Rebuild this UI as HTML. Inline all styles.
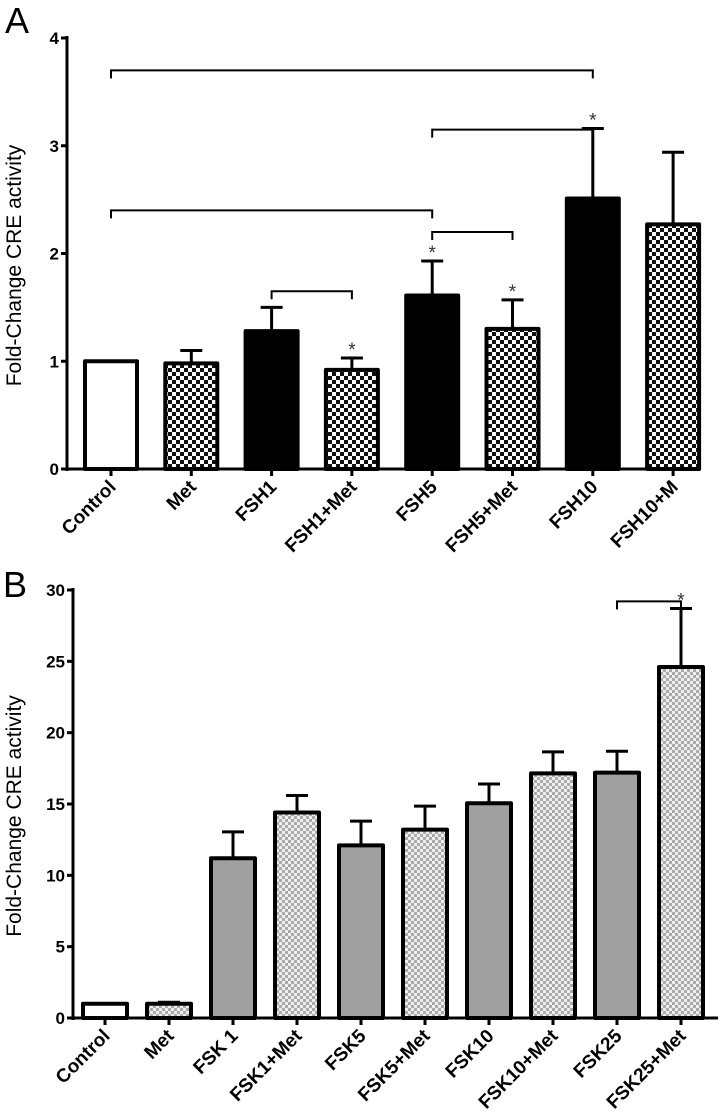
<!DOCTYPE html>
<html><head><meta charset="utf-8"><style>
html,body{margin:0;padding:0;background:#fff;}
svg{display:block;font-family:"Liberation Sans",Arial,sans-serif;}
</style></head><body>
<svg id="c" width="720" height="1119" viewBox="0 0 720 1119">
<defs>
<pattern id="chkA" width="8" height="8" patternUnits="userSpaceOnUse">
<rect width="8" height="8" fill="#fff"/><rect width="4" height="4" fill="#111"/><rect x="4" y="4" width="4" height="4" fill="#111"/></pattern>
<pattern id="chkB" width="6" height="6" patternUnits="userSpaceOnUse">
<rect width="6" height="6" fill="#eee"/><rect width="3" height="3" fill="#aaa"/><rect x="3" y="3" width="3" height="3" fill="#aaa"/></pattern>
</defs>
<text x="5" y="33" font-size="36">A</text>
<text x="3" y="597" font-size="36">B</text>
<g id="ga"></g>
<g id="gb"></g>
</svg>
<script>
const catsA=["Control","Met","FSH1","FSH1+Met","FSH5","FSH5+Met","FSH10","FSH10+M"];
const valsA=[1,0.98,1.28,0.92,1.61,1.30,2.51,2.27];
const errA=[0,0.12,0.22,0.11,0.32,0.27,0.65,0.67];
const fillA=["w","c","k","c","k","c","k","c"];
const ticksA=[0,1,2,3,4];
const bracketsA=[[0,6,3.7],[4,6,3.15],[0,4,2.4],[4,5,2.2],[2,3,1.65]];
const starsA=[3,4,5,6];

const catsB=["Control","Met","FSK 1","FSK1+Met","FSK5","FSK5+Met","FSK10","FSK10+Met","FSK25","FSK25+Met"];
const valsB=[1,1,11.2,14.4,12.1,13.2,15.05,17.15,17.2,24.6];
const errB=[0,0.1,1.85,1.2,1.7,1.65,1.35,1.5,1.5,4.1];
const fillB=["w","c","g","c","g","c","g","c","g","c"];
const ticksB=[0,5,10,15,20,25,30];
const bracketsB=[[8,9,29.2]];
const starsB=[9];

const NS="http://www.w3.org/2000/svg";
function mk(p,t,a){const e=document.createElementNS(NS,t);for(const k in a)e.setAttribute(k,a[k]);p.appendChild(e);return e;}

function draw(g,o){
  const y=v=>o.y0-(v-o.ymin)/(o.ymax-o.ymin)*(o.y0-o.y1);
  const x=i=>o.x0+o.first+i*o.step;
  let ax=mk(g,'line',{x1:o.ax,y1:o.y1-2,x2:o.ax,y2:o.y0+2,stroke:'#000','stroke-width':3});
  
  
  let bx=mk(g,'line',{x1:o.ax-2,y1:o.y0,x2:o.xend,y2:o.y0,stroke:'#000','stroke-width':3});
  
  
  o.ticks.forEach(t=>{
    mk(g,'line',{x1:o.ax-6,y1:y(t),x2:o.ax,y2:y(t),stroke:'#000','stroke-width':3});
    let tl=mk(g,'text',{x:o.ax-8,y:y(t)+6,'text-anchor':'end','font-size':17,'font-weight':'bold'});
    tl.textContent=t;
    
    
  });
  let yt=mk(g,'text',{x:0,y:0,'font-size':21,'text-anchor':'middle',transform:`translate(21,${(o.y0+o.y1)/2+12}) rotate(-90)`});
  yt.textContent="Fold-Change CRE activity";
  
  
  o.cats.forEach((c,i)=>{
    const cx=x(i),v=o.vals[i],e=o.err[i];
    if(e>0){mk(g,'line',{x1:cx,y1:y(v),x2:cx,y2:y(v+e),stroke:'#000','stroke-width':3});
      mk(g,'line',{x1:cx-11,y1:y(v+e),x2:cx+11,y2:y(v+e),stroke:'#000','stroke-width':3});}
    const f=o.fill[i];
    const fill=f=='w'?'#fff':f=='k'?'#000':f=='g'?'#a0a0a0':o.pat;
    let r=mk(g,'rect',{x:cx-o.bw/2,y:y(v),width:o.bw,height:o.y0-y(v),fill:fill,stroke:'#000','stroke-width':4,'stroke-linejoin':'round'});
    
    
    mk(g,'line',{x1:cx,y1:o.y0,x2:cx,y2:o.y0+7,stroke:'#000','stroke-width':3});
    let t=mk(g,'text',{x:0,y:0,'text-anchor':'end','font-size':19,'font-weight':'bold',transform:`translate(${cx+6},${o.y0+19}) rotate(-45)`});
    t.textContent=c;
    
    
  });
  o.brackets.forEach(b=>{
    const yy=y(b[2]);
    let p=mk(g,'path',{d:`M${x(b[0])},${yy+8}V${yy}H${x(b[1])}V${yy+8}`,fill:'none',stroke:'#000','stroke-width':2});
    
    
  });
  o.stars.forEach(i=>{
    let s=mk(g,'text',{x:x(i),y:y(o.vals[i]+o.err[i])-2,'text-anchor':'middle','font-size':19,fill:'#333'});
    s.textContent="*";
    
    
  });
}
draw(document.getElementById('ga'),{cats:catsA,vals:valsA,err:errA,fill:fillA,ticks:ticksA,brackets:bracketsA,stars:starsA,
  ymin:0,ymax:4,y0:469,y1:38,ax:67,x0:0,first:111,step:80.3,bw:52,xend:700,pat:'url(#chkA)'});
draw(document.getElementById('gb'),{cats:catsB,vals:valsB,err:errB,fill:fillB,ticks:ticksB,brackets:bracketsB,stars:starsB,
  ymin:0,ymax:30,y0:1018,y1:590,ax:73,x0:0,first:105,step:64,bw:44,xend:718,pat:'url(#chkB)'});
</script>
</body></html>
